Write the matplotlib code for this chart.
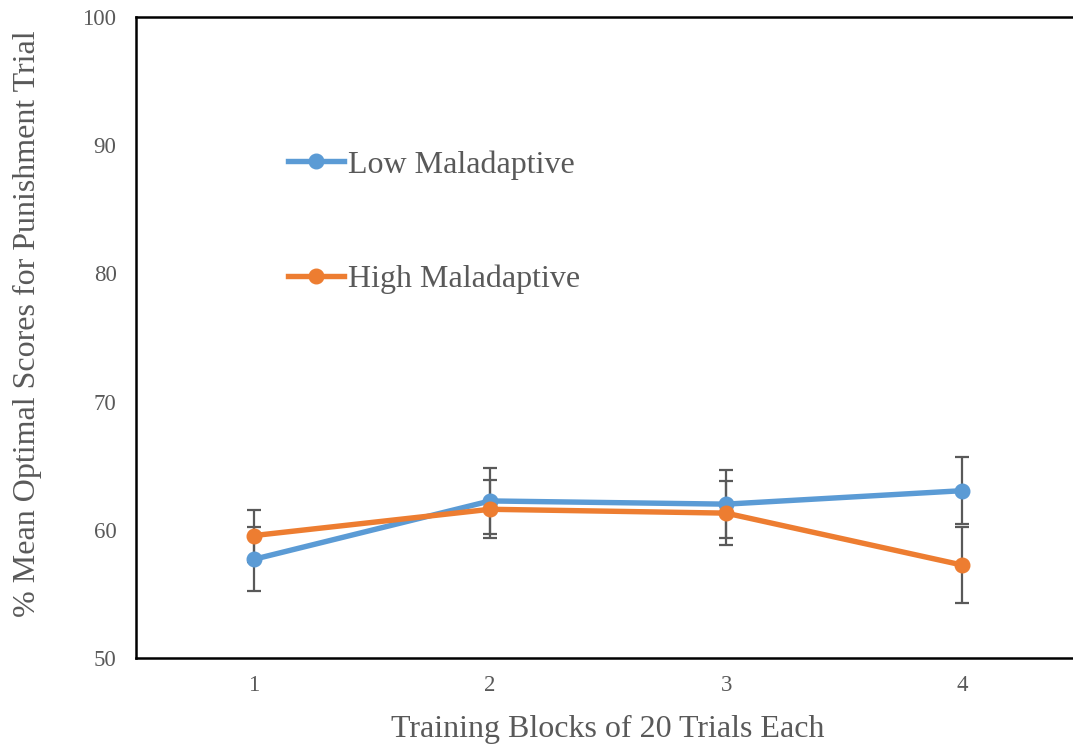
import matplotlib.pyplot as plt

blocks = [1, 2, 3, 4]
block_labels = ["1", "2", "3", "4"]

low_scores = [57.7, 62.25, 62.0, 63.05]
low_err = [2.5, 2.57, 2.65, 2.6]

high_scores = [59.55, 61.6, 61.3, 57.25]
high_err = [2.03, 2.26, 2.5, 2.96]

y_ticks = [50, 60, 70, 80, 90, 100]

text_gray = "#595959"

plt.rcParams["font.family"] = ["Liberation Serif", "DejaVu Serif"]

fig = plt.figure(figsize=(10.73, 7.44), dpi=100)
ax = fig.add_axes([0.1267, 0.1156, 0.88, 0.8616])

ax.errorbar(
    blocks, low_scores, yerr=low_err,
    color="#5B9BD5", ecolor=text_gray, elinewidth=1.6, capsize=5, capthick=1.6,
    linewidth=3.9, marker="o", markersize=10.5, label="Low Maladaptive", zorder=3
)
ax.errorbar(
    blocks, high_scores, yerr=high_err,
    color="#ED7D31", ecolor=text_gray, elinewidth=1.6, capsize=5, capthick=1.6,
    linewidth=3.9, marker="o", markersize=10.5, label="High Maladaptive", zorder=3
)

ax.set_xlim(0.5, 4.5)
ax.set_ylim(50, 100)
ax.set_xticks(blocks)
ax.set_xticklabels(block_labels)
ax.set_yticks(y_ticks)
ax.tick_params(length=0, labelsize=16.5, labelcolor=text_gray, pad=12)
ax.tick_params(axis="y", pad=14)

for side in ["left", "top", "bottom"]:
    ax.spines[side].set_linewidth(1.8)
    ax.spines[side].set_color("black")
ax.spines["right"].set_visible(False)

ax.set_xlabel("Training Blocks of 20 Trials Each", fontsize=23, color=text_gray, labelpad=14)
ax.set_ylabel("% Mean Optimal Scores for Punishment Trial", fontsize=23, color=text_gray)
ax.yaxis.set_label_coords(-0.099, 0.521)

handles, labels = ax.get_legend_handles_labels()
handles = [h[0] for h in handles]
leg = ax.legend(
    handles, labels, loc="center left", bbox_to_anchor=(0.161, 0.680),
    frameon=False, fontsize=23, labelcolor=text_gray,
    handlelength=1.75, handletextpad=0.12, labelspacing=2.66, borderpad=0,
    borderaxespad=0
)

fig.savefig("out.png", dpi=100)
